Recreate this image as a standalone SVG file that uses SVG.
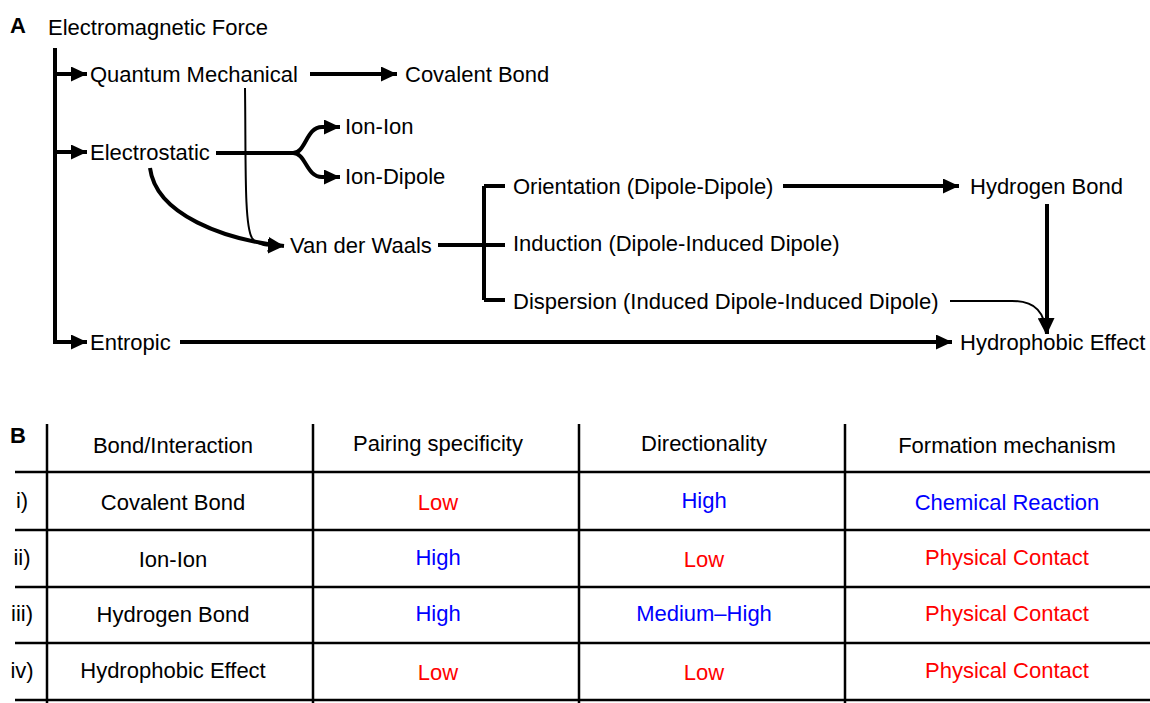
<svg xmlns="http://www.w3.org/2000/svg" width="1150" height="703" viewBox="0 0 1150 703">
<defs>
<marker id="ah" markerUnits="userSpaceOnUse" markerWidth="17" markerHeight="15" refX="16" refY="7.5" orient="auto">
<path d="M0,0 L16,7.5 L0,15 Z" fill="#000"/>
</marker>
<style>
text{font-family:"Liberation Sans",Arial,sans-serif;font-size:22px;fill:#000}
.lbl{font-weight:bold;font-size:22px}
.thick{fill:none;stroke:#000;stroke-width:4}
.thin{fill:none;stroke:#000;stroke-width:2}
.grid{stroke:#000;stroke-width:2.5}
.c{text-anchor:middle}
.r{fill:#f00}
.b{fill:#00f}
</style>
</defs>
<rect width="1150" height="703" fill="#fff"/>
<text class="lbl" x="10" y="33">A</text>
<g id="n-em"><text x="48" y="35">Electromagnetic Force</text></g>
<g id="n-qm"><text x="90" y="82">Quantum Mechanical</text></g>
<g id="n-cov"><text x="405" y="82">Covalent Bond</text></g>
<g id="n-es"><text x="90" y="160">Electrostatic</text></g>
<g id="n-ionion"><text x="345" y="134">Ion-Ion</text></g>
<g id="n-iondip"><text x="345" y="184">Ion-Dipole</text></g>
<g id="n-vdw"><text x="290" y="253">Van der Waals</text></g>
<g id="n-ori"><text x="513" y="194">Orientation (Dipole-Dipole)</text></g>
<g id="n-ind"><text x="513" y="251">Induction (Dipole-Induced Dipole)</text></g>
<g id="n-dis"><text x="513" y="309">Dispersion (Induced Dipole-Induced Dipole)</text></g>
<g id="n-hb"><text x="970" y="194">Hydrogen Bond</text></g>
<g id="n-ent"><text x="90" y="350">Entropic</text></g>
<g id="n-hph"><text x="960" y="350">Hydrophobic Effect</text></g>
<g id="connectors">
<path class="thick" d="M55,48 V342 H87" marker-end="url(#ah)"/>
<path class="thick" d="M55,74 H87" marker-end="url(#ah)"/>
<path class="thick" d="M55,152 H87" marker-end="url(#ah)"/>
<path class="thick" d="M310,74 H397" marker-end="url(#ah)"/>
<path class="thick" d="M216,153 H293 C306,153 306,127 322,127 H340" marker-end="url(#ah)"/>
<path class="thick" d="M293,153 C306,153 306,177 322,177 H340" marker-end="url(#ah)"/>
<path class="thin" d="M245,88 C246,160 244,225 252,238 C258,246 266,246 284,246" marker-end="url(#ah)"/>
<path class="thick" d="M150,168 C156,215 225,240 284,246" marker-end="url(#ah)"/>
<path class="thick" d="M438,245 H505 M484,186 V300 M484,186 H505 M484,300 H505"/>
<path class="thick" d="M783,186 H959" marker-end="url(#ah)"/>
<path class="thick" d="M1047,204 V334" marker-end="url(#ah)"/>
<path class="thin" d="M950,301 H1012 C1036,301 1045,313 1046,334" marker-end="url(#ah)"/>
<path class="thick" d="M180,342 H952" marker-end="url(#ah)"/>
</g>
<text class="lbl" x="10" y="443">B</text>
<g id="table">
<path class="grid" d="M47,424 V703 M313,424 V703 M579,424 V703 M845,424 V703"/>
<path class="grid" d="M15,472 H1150 M15,530 H1150 M15,587 H1150 M15,643 H1150 M15,700 H1150"/>
<text class="c" x="173" y="453">Bond/Interaction</text>
<text class="c" x="438" y="451">Pairing specificity</text>
<text class="c" x="704" y="451">Directionality</text>
<text class="c" x="1007" y="453">Formation mechanism</text>
<text class="c" x="22" y="508">i)</text>
<text class="c" x="22" y="565">ii)</text>
<text class="c" x="22" y="621">iii)</text>
<text class="c" x="22" y="678">iv)</text>
<text class="c" x="173" y="510">Covalent Bond</text>
<text class="c" x="173" y="567">Ion-Ion</text>
<text class="c" x="173" y="622">Hydrogen Bond</text>
<text class="c" x="173" y="678">Hydrophobic Effect</text>
<text class="c r" x="438" y="510">Low</text>
<text class="c b" x="438" y="565">High</text>
<text class="c b" x="438" y="621">High</text>
<text class="c r" x="438" y="680">Low</text>
<text class="c b" x="704" y="508">High</text>
<text class="c r" x="704" y="567">Low</text>
<text class="c b" x="704" y="621">Medium–High</text>
<text class="c r" x="704" y="680">Low</text>
<text class="c b" x="1007" y="510">Chemical Reaction</text>
<text class="c r" x="1007" y="565">Physical Contact</text>
<text class="c r" x="1007" y="621">Physical Contact</text>
<text class="c r" x="1007" y="678">Physical Contact</text>
</g>
</svg>
